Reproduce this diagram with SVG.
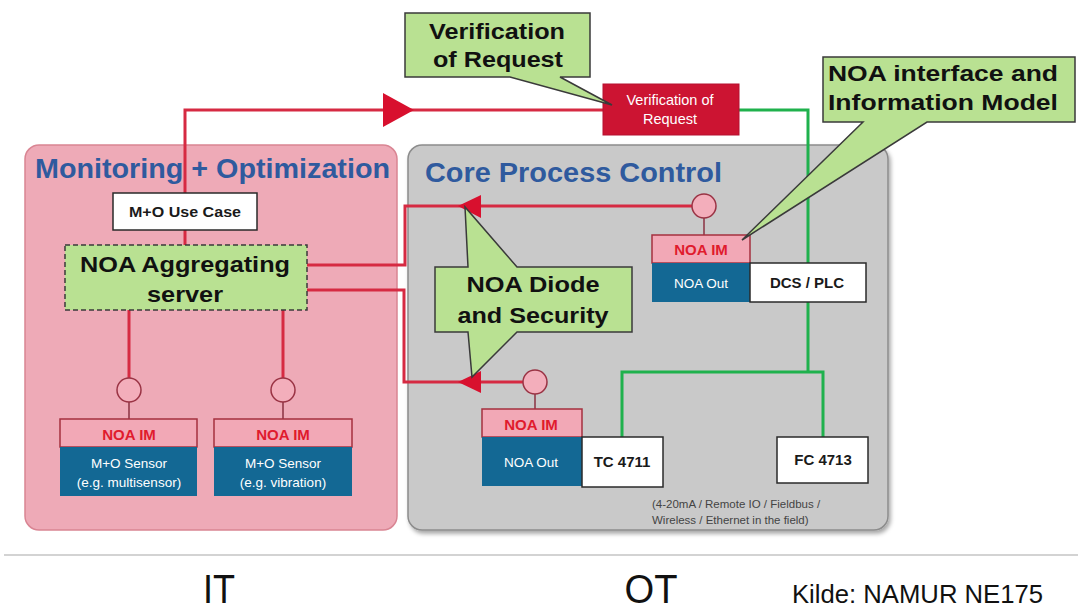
<svg xmlns="http://www.w3.org/2000/svg" width="1078" height="612" viewBox="0 0 1078 612">
  <defs>
    <style>
      text { font-family: "Liberation Sans", Arial, sans-serif; }
      .title { font-weight: bold; fill: #2f5a9e; font-size: 27px; }
      .call { fill: #b9e192; stroke: #3a3a3a; stroke-width: 1.5; }
      .callt { font-weight: bold; font-size: 22px; fill: #111; text-anchor: middle; }
      .red { fill: none; stroke: #d62a42; stroke-width: 3; }
      .grn { fill: none; stroke: #1fb14d; stroke-width: 3; }
      .thin { fill: none; stroke: #8a3040; stroke-width: 1.5; }
      .arrow { fill: #d8102e; }
      .port { fill: #f3aebb; stroke: #9a3344; stroke-width: 1.5; }
      .im { fill: #f2a8b6; stroke: #a5303f; stroke-width: 1.5; }
      .imt { font-weight: bold; font-size: 15px; fill: #e01b2d; text-anchor: middle; }
      .dev { fill: #136894; }
      .devt { font-size: 13.5px; fill: #ffffff; text-anchor: middle; }
      .wbox { fill: #ffffff; stroke: #2a2a2a; stroke-width: 1.5; }
      .wt { font-weight: bold; font-size: 15px; fill: #1a1a1a; text-anchor: middle; }
      .cal { font-family: "Liberation Sans Narrow", "Liberation Sans", sans-serif; fill: #111; }
    </style>
    <filter id="shadow" x="-5%" y="-5%" width="110%" height="110%">
      <feDropShadow dx="2" dy="3" stdDeviation="2" flood-color="#000" flood-opacity="0.35"/>
    </filter>
  </defs>

  <rect width="1078" height="612" fill="#ffffff"/>

  <!-- domain panels -->
  <g id="panel-mo">
    <rect x="25" y="145" width="372" height="385" rx="14" fill="#eeaab7" stroke="#d98593" stroke-width="1.5"/>
    <text class="title" x="35" y="178" textLength="355" lengthAdjust="spacingAndGlyphs">Monitoring + Optimization</text>
  </g>
  <g id="panel-core">
    <rect x="408" y="145" width="480" height="385" rx="14" fill="#c9c9c9" stroke="#8c8c8c" stroke-width="1.5" filter="url(#shadow)"/>
    <text class="title" x="425" y="182" textLength="297" lengthAdjust="spacingAndGlyphs">Core Process Control</text>
  </g>

  <!-- connectors -->
  <g id="connectors">
    <!-- request path to verification -->
    <polyline class="red" points="185,193 185,110 603,110"/>
    <polygon class="arrow" points="383,93 414,110 383,127"/>
    <line class="red" x1="185" y1="230" x2="185" y2="245"/>
    <polyline class="grn" points="739,110 808,110 808,372"/>
    <polyline class="grn" points="622,437 622,372 823,372 823,437"/>
    <!-- diode paths -->
    <polyline class="red" points="307,265 405,265 405,206 692,206"/>
    <polygon class="arrow" points="481,195 458,206 481,218"/>
    <polyline class="red" points="307,290 404,290 404,382 523,382"/>
    <polygon class="arrow" points="481,371 458,382 481,393"/>
    <line class="thin" x1="704" y1="218" x2="704" y2="235"/>
    <line class="thin" x1="535" y1="394" x2="535" y2="409"/>
    <!-- sensor links -->
    <line class="red" x1="129" y1="310" x2="129" y2="378"/>
    <line class="red" x1="283" y1="310" x2="283" y2="378"/>
    <line class="thin" x1="129" y1="402" x2="129" y2="419"/>
    <line class="thin" x1="283" y1="402" x2="283" y2="419"/>
  </g>

  <!-- ports -->
  <g id="ports">
    <circle class="port" cx="704" cy="206" r="12"/>
    <circle class="port" cx="535" cy="382" r="12"/>
    <circle class="port" cx="129" cy="390" r="12"/>
    <circle class="port" cx="283" cy="390" r="12"/>
  </g>

  <g id="verification-box">
    <rect x="603" y="84" width="136" height="51" fill="#cc1432" stroke="#b51030" stroke-width="1"/>
    <text x="670" y="105" font-size="14.5" fill="#fff" text-anchor="middle">Verification of</text>
    <text x="670" y="124" font-size="14.5" fill="#fff" text-anchor="middle">Request</text>
  </g>

  <g id="mo-use-case">
    <rect class="wbox" x="113" y="193" width="144" height="37"/>
    <text class="wt" x="185" y="217" textLength="112" lengthAdjust="spacingAndGlyphs">M+O Use Case</text>
  </g>

  <g id="aggregating-server">
    <rect x="65" y="245" width="242" height="65" fill="#b9e192" stroke="#3a3a3a" stroke-width="1.5" stroke-dasharray="5,3"/>
    <text class="callt" x="185" y="272" textLength="210" lengthAdjust="spacingAndGlyphs">NOA Aggregating</text>
    <text class="callt" x="185" y="302" textLength="76" lengthAdjust="spacingAndGlyphs">server</text>
  </g>

  <g id="sensor-multi">
    <rect class="im" x="60" y="419" width="137" height="28"/>
    <text class="imt" x="129" y="440">NOA IM</text>
    <rect class="dev" x="60" y="447" width="137" height="49"/>
    <text class="devt" x="129" y="468">M+O Sensor</text>
    <text class="devt" x="129" y="487">(e.g. multisensor)</text>
  </g>

  <g id="sensor-vibration">
    <rect class="im" x="214" y="419" width="138" height="28"/>
    <text class="imt" x="283" y="440">NOA IM</text>
    <rect class="dev" x="214" y="447" width="138" height="49"/>
    <text class="devt" x="283" y="468">M+O Sensor</text>
    <text class="devt" x="283" y="487">(e.g. vibration)</text>
  </g>

  <g id="dcs-plc">
    <rect class="im" x="652" y="235" width="98" height="28"/>
    <text class="imt" x="701" y="255">NOA IM</text>
    <rect class="dev" x="652" y="263" width="98" height="39"/>
    <text class="devt" x="701" y="288">NOA Out</text>
    <rect class="wbox" x="750" y="263" width="116" height="39"/>
    <text class="wt" x="807" y="288">DCS / PLC</text>
  </g>

  <g id="tc4711">
    <rect class="im" x="482" y="409" width="100" height="28"/>
    <text class="imt" x="531" y="430">NOA IM</text>
    <rect class="dev" x="482" y="437" width="100" height="49"/>
    <text class="devt" x="531" y="467">NOA Out</text>
    <rect class="wbox" x="582" y="437" width="81" height="50"/>
    <text class="wt" x="622" y="467">TC 4711</text>
  </g>

  <g id="fc4713">
    <rect class="wbox" x="777" y="437" width="91" height="46"/>
    <text class="wt" x="823" y="465">FC 4713</text>
  </g>

  <g id="field-note">
    <text x="652" y="508" font-size="11.5" fill="#444">(4-20mA / Remote IO / Fieldbus /</text>
    <text x="652" y="524" font-size="11.5" fill="#444">Wireless / Ethernet in the field)</text>
  </g>

  <!-- callouts -->
  <g id="callout-verification">
    <path class="call" d="M405,13 H590 V77 H560 L612,105 L510,77 H405 Z"/>
    <text class="callt" x="497" y="39" textLength="136" lengthAdjust="spacingAndGlyphs">Verification</text>
    <text class="callt" x="498" y="67" textLength="130" lengthAdjust="spacingAndGlyphs">of Request</text>
  </g>
  <g id="callout-interface">
    <path class="call" d="M823,57 H1075 V122 H927 L742,240 L863,122 H823 Z"/>
    <text class="callt" x="943" y="81" textLength="230" lengthAdjust="spacingAndGlyphs">NOA interface and</text>
    <text class="callt" x="943" y="110" textLength="230" lengthAdjust="spacingAndGlyphs">Information Model</text>
  </g>
  <g id="callout-diode">
    <path class="call" d="M435,267 H468 L465,207 L517,267 H632 V332 H517 L472,377 L468,332 H435 Z"/>
    <text class="callt" x="533" y="292" textLength="133" lengthAdjust="spacingAndGlyphs">NOA Diode</text>
    <text class="callt" x="533" y="323" textLength="151" lengthAdjust="spacingAndGlyphs">and Security</text>
  </g>

  <!-- footer -->
  <line x1="4" y1="555" x2="1078" y2="555" stroke="#c4c4c4" stroke-width="1.5"/>
  <g id="footer">
    <text class="cal" x="219" y="603" font-size="40" text-anchor="middle" textLength="32" lengthAdjust="spacingAndGlyphs">IT</text>
    <text class="cal" x="651" y="603" font-size="40" text-anchor="middle" textLength="53" lengthAdjust="spacingAndGlyphs">OT</text>
    <text class="cal" x="792" y="603" font-size="25" textLength="251" lengthAdjust="spacingAndGlyphs">Kilde: NAMUR NE175</text>
  </g>
</svg>
